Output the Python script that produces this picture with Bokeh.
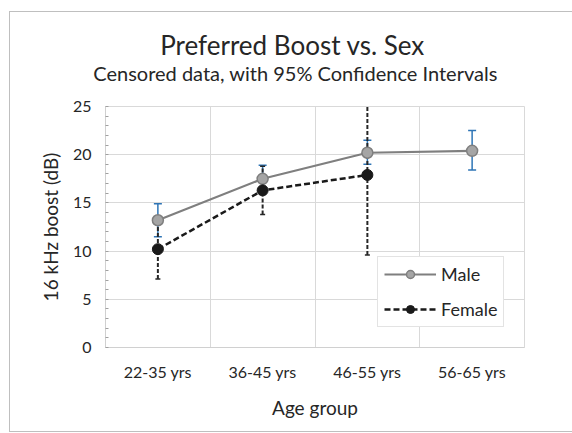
import numpy as np
from bokeh.plotting import figure
from bokeh.layouts import column
from bokeh.models import (Range1d, FixedTicker, SingleIntervalTicker, Label, Legend,
                          LegendItem)
from bokeh.embed import file_html
from bokeh.resources import INLINE

# ---- data ----
categories = ["22-35 yrs", "36-45 yrs", "46-55 yrs", "56-65 yrs"]
male_mean = [13.2, 17.5, 20.2, 20.4]
male_lower = [11.5, 16.1, 19.0, 18.4]
male_upper = [14.9, 18.9, 21.5, 22.5]
female_groups = ["22-35 yrs", "36-45 yrs", "46-55 yrs"]
female_mean = [10.2, 16.3, 17.9]
female_lower = [7.1, 13.8, 9.6]
female_upper = [13.3, 18.8, 26.2]

title_text = "Preferred Boost vs. Sex"
subtitle_text = "Censored data, with 95% Confidence Intervals"

FONT = "Lato"
W = 562

pos = {c: i + 0.5 for i, c in enumerate(categories)}
mx = [pos[c] for c in categories]
fx = [pos[c] for c in female_groups]

# ---- title strip ----
TH = 80
t = figure(width=W, height=TH, output_backend="svg", toolbar_location=None,
           x_range=Range1d(0, W), y_range=Range1d(TH, 0), x_axis_type=None,
           y_axis_type=None, min_border=0, title=None,
           background_fill_color="white", border_fill_color="white")
t.outline_line_color = None
t.grid.visible = False

if "frame_align" in t.properties():
    t.frame_align = False
    tx, sx = 282, 285
else:
    tx, sx = 251, 272

t.add_layout(Label(x=tx, y=32, text=title_text, text_align="center",
                   text_baseline="alphabetic", text_font=FONT, text_font_size="26px",
                   text_color="#262626"))
t.add_layout(Label(x=sx, y=60, text=subtitle_text, text_align="center",
                   text_baseline="alphabetic", text_font=FONT, text_font_size="20px",
                   text_color="#262626"))

# ---- main chart ----
p = figure(width=W, height=339, output_backend="svg", toolbar_location=None,
           x_range=Range1d(0, len(categories)), y_range=Range1d(0, 25),
           min_border_left=95, min_border_right=48, min_border_top=14,
           min_border_bottom=84, background_fill_color="white",
           border_fill_color="white", title=None)
p.outline_line_color = "#d9d9d9"

p.xaxis.ticker = FixedTicker(ticks=mx)
p.xaxis.major_label_overrides = {x: c for x, c in zip(mx, categories)}
p.xaxis.major_tick_in = 0
p.xaxis.major_tick_out = 0
p.xaxis.minor_tick_in = 0
p.xaxis.minor_tick_out = 0
p.xaxis.axis_line_color = "#d0d0d0"
p.xaxis.axis_label = "Age group"
p.xgrid.ticker = FixedTicker(ticks=list(range(1, len(categories))))

p.yaxis.ticker = SingleIntervalTicker(interval=5, num_minor_ticks=5)
p.yaxis.major_tick_in = 0
p.yaxis.major_tick_out = 0
p.yaxis.minor_tick_in = 3
p.yaxis.minor_tick_out = 0
p.yaxis.minor_tick_line_color = "#a0a0a0"
p.yaxis.axis_line_color = "#d0d0d0"
p.yaxis.axis_label = "16 kHz boost (dB)"

for ax in (p.xaxis[0], p.yaxis[0]):
    ax.major_label_text_font = FONT
    ax.major_label_text_font_size = "16px"
    ax.major_label_text_color = "#262626"
    ax.axis_label_text_font = FONT
    ax.axis_label_text_font_size = "19px"
    ax.axis_label_text_font_style = "normal"
    ax.axis_label_text_color = "#262626"
p.xaxis.major_label_standoff = 14
p.xaxis.axis_label_standoff = 12
p.yaxis.major_label_standoff = 14
p.yaxis.axis_label_standoff = 8

p.xgrid.grid_line_color = "#d9d9d9"
p.ygrid.grid_line_color = "#d9d9d9"

# error bars
p.segment(x0=mx, y0=male_lower, x1=mx, y1=male_upper, line_color="#2e75b6", line_width=1.5)
p.scatter(x=mx + mx, y=male_lower + male_upper, marker="dash", size=8,
          line_color="#2e75b6", line_width=1.5)
p.segment(x0=fx, y0=female_lower, x1=fx, y1=female_upper, line_color="#262626",
          line_width=2, line_dash="4 2")
p.scatter(x=fx + fx, y=female_lower + female_upper, marker="dash", size=5,
          line_color="#262626", line_width=1.5)

# series
ml = p.line(mx, male_mean, line_color="#7f7f7f", line_width=2.2)
ms = p.scatter(mx, male_mean, marker="circle", size=11, fill_color="#a5a5a5",
               line_color="#7f7f7f", line_width=1.5)
fl = p.line(fx, female_mean, line_color="#1a1a1a", line_width=2.5, line_dash="6 3")
fs = p.scatter(fx, female_mean, marker="circle", size=11, fill_color="#1a1a1a",
               line_color="#1a1a1a", line_width=1)

legend = Legend(items=[LegendItem(label="Male", renderers=[ml, ms]),
                       LegendItem(label="Female", renderers=[fl, fs])],
                location=(272, 20), glyph_width=52, glyph_height=20,
                label_text_font=FONT, label_text_font_size="18px",
                label_text_color="#262626", label_standoff=5,
                padding=6, spacing=13, margin=0,
                border_line_color="#c8c8c8", border_line_width=1,
                background_fill_color="white", background_fill_alpha=1)
p.add_layout(legend, "center")

root = column(t, p, spacing=0)
root.margin = (11, 0, 0, 9)
root.styles = {"border-top": "1px solid #bfbfbf", "border-left": "1px solid #bfbfbf",
               "border-bottom": "1px solid #bfbfbf", "background-color": "white"}

open("out.html", "w").write(file_html(root, INLINE))
